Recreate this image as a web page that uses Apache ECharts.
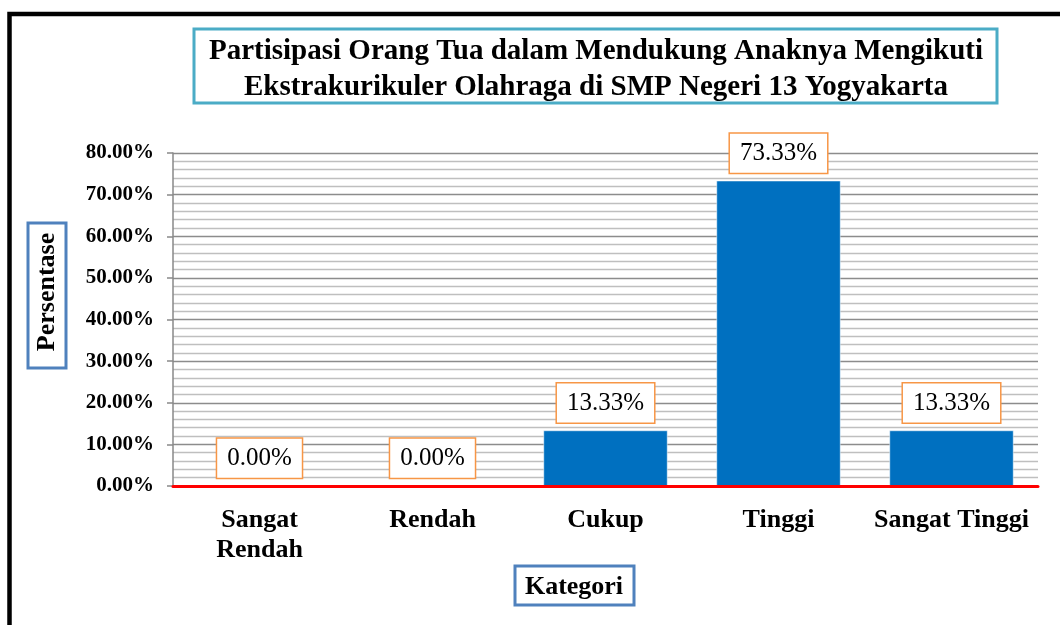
<!DOCTYPE html>
<html>
<head>
<meta charset="utf-8">
<script src="https://cdn.jsdelivr.net/npm/echarts@6/dist/echarts.min.js"></script>
<style>
html,body{margin:0;padding:0;background:#fff;}
#chart{width:1060px;height:625px;}
</style>
</head>
<body>
<div id="chart"></div>
<script>
const categories = ['Sangat Rendah', 'Rendah', 'Cukup', 'Tinggi', 'Sangat Tinggi'];
const values = [0.00, 0.00, 13.33, 73.33, 13.33];
const titleLines = ['Partisipasi Orang Tua dalam Mendukung Anaknya Mengikuti', 'Ekstrakurikuler Olahraga di SMP Negeri 13 Yogyakarta'];
const yAxisName = 'Persentase';
const xAxisName = 'Kategori';

const FONT = '"Liberation Serif", "Times New Roman", serif';
const chart = echarts.init(document.getElementById('chart'), null, {renderer: 'canvas'});

chart.setOption({
  animation: false,
  backgroundColor: '#fff',
  grid: {left: 173, right: 22, top: 153, bottom: 139, containLabel: false},
  xAxis: {
    type: 'category',
    data: categories,
    axisLine: {show: true, lineStyle: {color: '#ff0000', width: 3}},
    axisTick: {show: false},
    axisLabel: {
      interval: 0,
      margin: 19,
      fontFamily: FONT, fontSize: 26, fontWeight: 'bold', color: '#000', lineHeight: 30,
      formatter: v => v === 'Sangat Rendah' ? 'Sangat\nRendah' : v
    },
    z: 10
  },
  yAxis: {
    type: 'value',
    min: 0, max: 80, interval: 10,
    axisLine: {show: true, lineStyle: {color: '#898989', width: 1.5}},
    axisTick: {show: true, length: 6, lineStyle: {color: '#898989', width: 1.5}},
    minorTick: {show: false, splitNumber: 5},
    splitLine: {show: true, lineStyle: {color: '#8c8c8c', width: 1.3}},
    minorSplitLine: {show: true, lineStyle: {color: '#bfbfbf', width: 1.3}},
    axisLabel: {
      margin: 19,
      fontFamily: FONT, fontSize: 21, fontWeight: 'bold', color: '#000',
      formatter: v => v.toFixed(2) + '%'
    }
  },
  series: [{
    type: 'bar',
    data: values,
    barWidth: 124,
    itemStyle: {color: '#0070C0', borderColor: '#ffffff', borderWidth: 0.5},
    label: {
      show: true,
      position: 'top',
      distance: 8,
      formatter: p => p.value.toFixed(2) + '%',
      fontFamily: FONT, fontSize: 25, color: '#000', lineHeight: 26,
      backgroundColor: '#fff',
      borderColor: '#F79646', borderWidth: 1.5,
      padding: [7, 10, 6, 10]
    },
    z: 5
  }],
  graphic: [
    {type: 'rect', silent: true, z: 100,
     shape: {x: 9.5, y: 14, width: 1200, height: 800},
     style: {fill: 'none', stroke: '#000', lineWidth: 4.5}},
    {type: 'rect', silent: true, z: 100,
     shape: {x: 194, y: 29, width: 803, height: 74},
     style: {fill: '#fff', stroke: '#4BACC6', lineWidth: 3}},
    {type: 'text', silent: true, z: 101,
     x: 596, y: 70,
     style: {text: titleLines.join('\n'), font: 'bold 29px ' + FONT, fill: '#000',
             align: 'center', verticalAlign: 'middle', lineHeight: 36}},
    {type: 'rect', silent: true, z: 100,
     shape: {x: 28, y: 223, width: 38, height: 145},
     style: {fill: '#fff', stroke: '#4F81BD', lineWidth: 3}},
    {type: 'text', silent: true, z: 101,
     x: 47, y: 292, rotation: Math.PI / 2,
     style: {text: yAxisName, font: 'bold 26px ' + FONT, fill: '#000',
             align: 'center', verticalAlign: 'middle'}},
    {type: 'rect', silent: true, z: 100,
     shape: {x: 515, y: 566, width: 119, height: 39},
     style: {fill: '#fff', stroke: '#4F81BD', lineWidth: 3}},
    {type: 'text', silent: true, z: 101,
     x: 574, y: 587,
     style: {text: xAxisName, font: 'bold 26px ' + FONT, fill: '#000',
             align: 'center', verticalAlign: 'middle'}}
  ]
});
</script>
</body>
</html>
